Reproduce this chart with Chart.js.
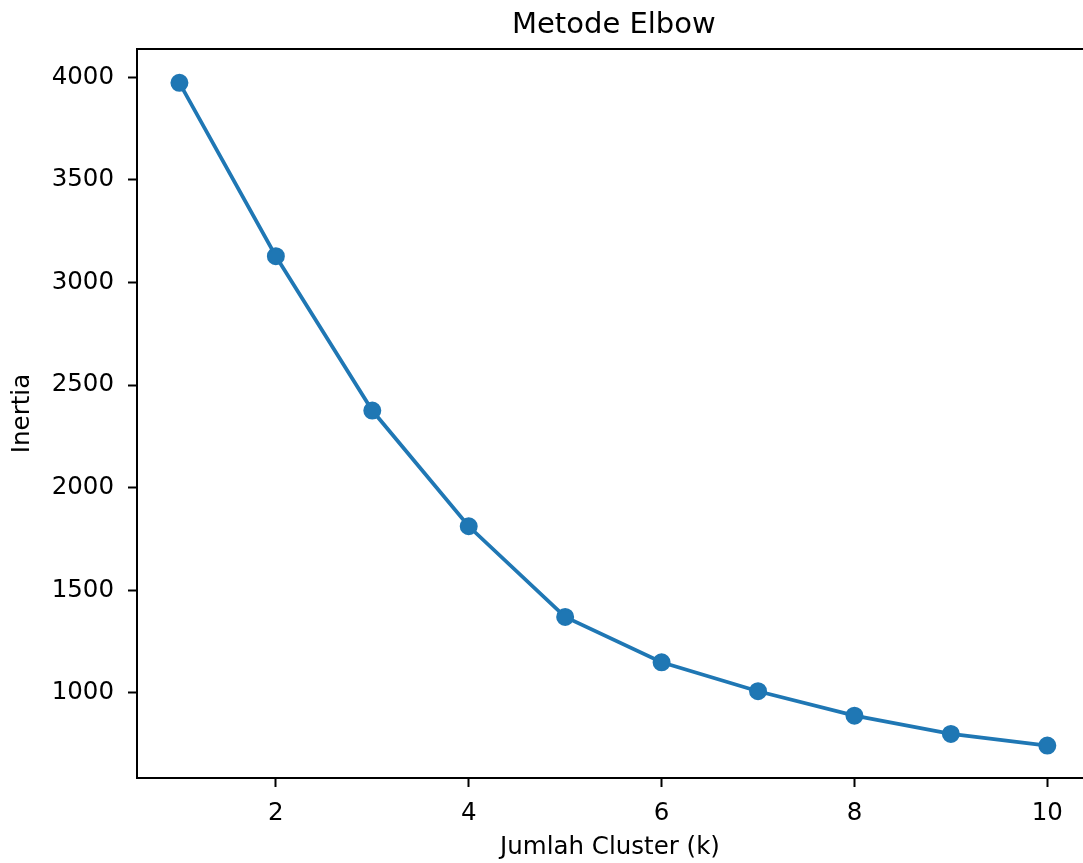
<!DOCTYPE html>
<html>
<head>
<meta charset="utf-8">
<script src="https://cdn.jsdelivr.net/npm/chart.js@4.4.1/dist/chart.umd.min.js"></script>
<style>
  html, body { margin: 0; padding: 0; background: #fff; }
  #wrap { width: 1083px; height: 863px; }
</style>
</head>
<body>
<div id="wrap"><canvas id="c" width="1083" height="863"></canvas></div>
<script>
const clusters = [1, 2, 3, 4, 5, 6, 7, 8, 9, 10];
const inertia = [3973, 3128, 2376, 1812, 1370, 1149, 1008, 889, 800, 743];
const xTicks = [2, 4, 6, 8, 10];
const yTicks = [1000, 1500, 2000, 2500, 3000, 3500, 4000];
const titleText = 'Metode Elbow';
const xLabel = 'Jumlah Cluster (k)';
const yLabel = 'Inertia';

const FONT = "'DejaVu Sans', sans-serif";
const X_MIN = 0.56, X_MAX = 10.45;

const decor = {
  id: 'decor',
  afterDraw(chart) {
    const { ctx, chartArea } = chart;
    const xs = chart.scales.x;
    ctx.save();
    ctx.strokeStyle = '#000';
    ctx.lineWidth = 2;
    ctx.beginPath();
    ctx.moveTo(chartArea.left - 1, chartArea.top);
    ctx.lineTo(chart.width + 2, chartArea.top);
    ctx.stroke();
    // title centred over the full (partly cropped) axes
    const cx = (xs.getPixelForValue(X_MIN) + xs.getPixelForValue(X_MAX)) / 2;
    ctx.fillStyle = '#000';
    ctx.font = "29px " + FONT;
    ctx.textAlign = 'center';
    ctx.textBaseline = 'alphabetic';
    ctx.fillText(titleText, cx, 33);
    ctx.restore();
  }
};

new Chart(document.getElementById('c'), {
  type: 'line',
  data: {
    datasets: [{
      data: clusters.map((k, i) => ({ x: k, y: inertia[i] })),
      borderColor: '#1f77b4',
      backgroundColor: '#1f77b4',
      borderWidth: 3.75,
      pointRadius: 8,
      pointBorderWidth: 2,
      pointBackgroundColor: '#1f77b4',
      pointBorderColor: '#1f77b4',
      tension: 0,
      fill: false,
      clip: false
    }]
  },
  options: {
    responsive: false,
    animation: false,
    devicePixelRatio: 1,
    layout: { autoPadding: false, padding: { left: 0, right: 0, top: 49, bottom: 0 } },
    plugins: {
      legend: { display: false },
      tooltip: { enabled: false },
      title: { display: false }
    },
    scales: {
      x: {
        type: 'linear',
        min: X_MIN,
        max: 10.37,
        afterBuildTicks(scale) { scale.ticks = xTicks.map(v => ({ value: v })); },
        afterFit(scale) { scale.height = 85; scale.paddingRight = 0; scale.paddingLeft = 0; },
        grid: { drawOnChartArea: false, drawTicks: true, tickLength: 9, tickWidth: 2, color: '#000' },
        border: { display: true, color: '#000', width: 2 },
        ticks: {
          color: '#000',
          font: { family: FONT, size: 24.5 },
          padding: 12,
          maxRotation: 0,
          autoSkip: false,
          callback: v => String(v)
        },
        title: {
          display: true,
          text: xLabel,
          color: '#000',
          font: { family: FONT, size: 24.5, lineHeight: 1.2 },
          padding: { top: 4, bottom: 1 }
        }
      },
      y: {
        type: 'linear',
        min: 585,
        max: 4138,
        afterBuildTicks(scale) { scale.ticks = yTicks.map(v => ({ value: v })); },
        afterFit(scale) { scale.width = 137; scale.paddingTop = 0; scale.paddingBottom = 0; },
        grid: { drawOnChartArea: false, drawTicks: true, tickLength: 9, tickWidth: 2, color: '#000' },
        border: { display: true, color: '#000', width: 2 },
        ticks: {
          color: '#000',
          font: { family: FONT, size: 24.5 },
          padding: 14,
          autoSkip: false,
          callback: v => String(v)
        },
        title: {
          display: true,
          text: yLabel,
          color: '#000',
          font: { family: FONT, size: 24.5, lineHeight: 1.2 },
          padding: { top: 8, bottom: 4 }
        }
      }
    }
  },
  plugins: [decor]
});
</script>
</body>
</html>
